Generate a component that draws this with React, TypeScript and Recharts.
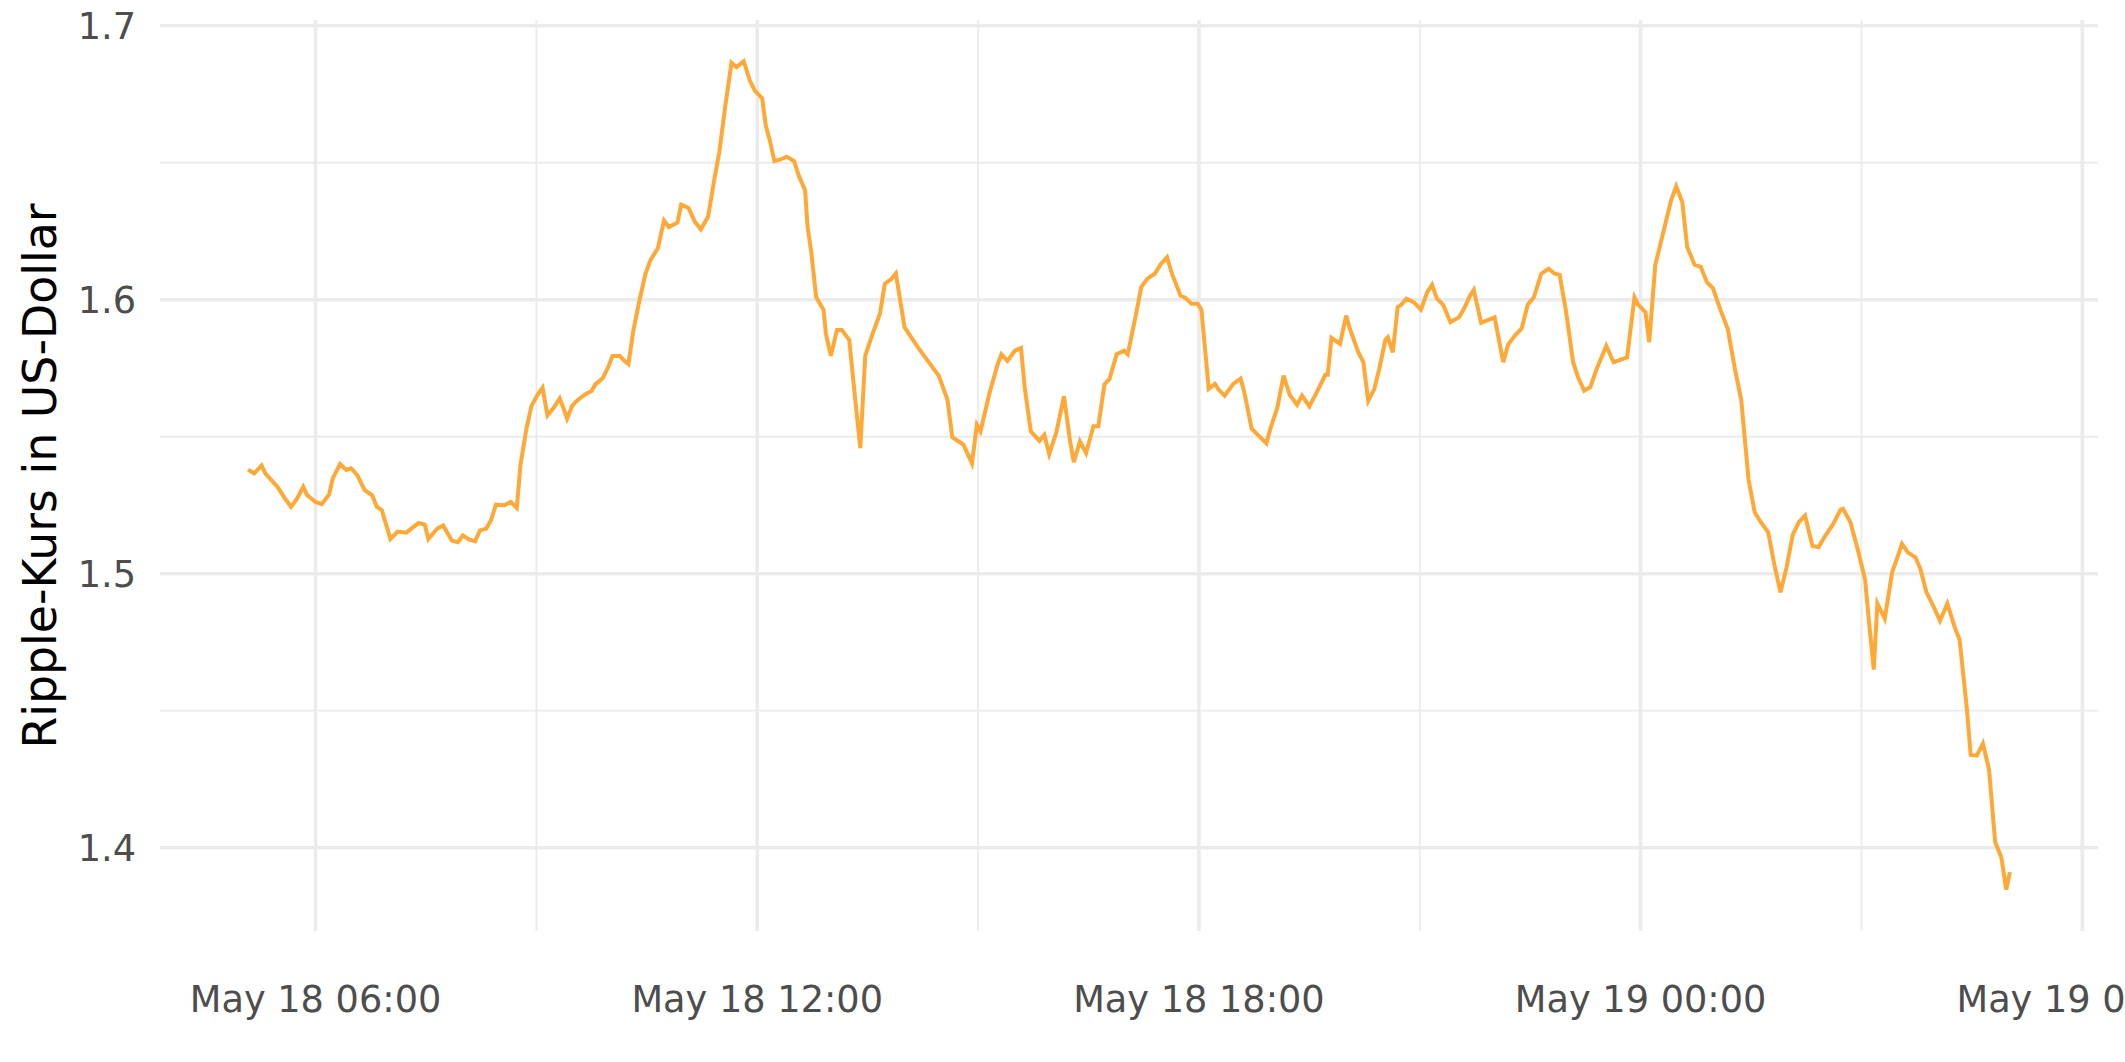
import React from 'react';
import { LineChart, Line, XAxis, YAxis, CartesianGrid } from 'recharts';

// time in minutes since May 18 00:00
const timeMinutes = [
  305, 310, 316, 319, 329, 335, 340, 345, 350, 353, 360, 365, 371, 374, 380, 385, 389, 394, 400, 406,
  410, 414, 421, 427, 434, 439, 444, 449, 452, 459, 464, 471, 476, 480, 485, 490, 494, 499, 503, 507,
  514, 519, 524, 527, 532, 536, 541, 545, 549, 554, 559, 562, 565, 569, 572, 577, 581, 585, 588, 594,
  599, 602, 608, 612, 615, 619, 624, 629, 633, 639, 644, 648, 655, 658, 664, 669, 674, 680, 685, 689,
  694, 699, 703, 709, 714, 718, 724, 727, 730, 734, 739, 744, 750, 754, 759, 761, 764, 768, 774, 776,
  780, 785, 789, 795, 800, 804, 808, 814, 820, 824, 829, 833, 840, 851, 858, 868, 875, 879, 888, 895,
  899, 902, 909, 916, 919, 924, 930, 935, 938, 943, 950, 954, 958, 964, 970, 975, 978, 983, 988, 994,
  998, 1003, 1007, 1013, 1019, 1022,
  1029, 1033, 1038, 1044, 1049, 1054, 1058, 1065, 1069, 1074, 1079, 1082, 1088, 1093, 1096, 1101, 1108,
  1114, 1117, 1123, 1128, 1135, 1138, 1144, 1149, 1154, 1160, 1164, 1170, 1176, 1183, 1185, 1188, 1195,
  1200, 1203, 1210, 1214, 1218, 1223, 1227, 1232, 1234, 1238, 1242, 1245, 1249, 1255, 1261, 1266, 1270,
  1274, 1279, 1285, 1292, 1296, 1301, 1304, 1310, 1321, 1328, 1332, 1338, 1343, 1348, 1353, 1359, 1365,
  1370, 1374, 1379, 1385, 1389, 1394, 1399, 1404, 1409, 1412, 1418, 1429, 1435, 1438, 1444, 1447, 1452,
  1455, 1461, 1465, 1469, 1474, 1478, 1484, 1489, 1494, 1499, 1505, 1511, 1517, 1522, 1528, 1533, 1538,
  1544, 1549, 1554, 1559, 1564, 1569, 1574, 1580, 1585, 1591, 1597, 1603, 1605, 1611, 1617, 1623, 1626,
  1630, 1633, 1639, 1645, 1650, 1653, 1658, 1664, 1668, 1673, 1679, 1684, 1690, 1696, 1700, 1706, 1709,
  1714, 1719, 1724, 1729, 1734, 1738, 1741,
];

const prices = [
  1.538, 1.5366, 1.5395, 1.5366, 1.5317, 1.5275, 1.5244, 1.5275, 1.5317, 1.5287, 1.5262, 1.5254, 1.5289, 1.5348, 1.54, 1.5379, 1.5385, 1.536, 1.5305, 1.5287,
  1.5244, 1.5232, 1.5127, 1.5154, 1.515, 1.5168, 1.5185, 1.5179, 1.5127, 1.5164, 1.5176, 1.5121, 1.5115, 1.514, 1.5125, 1.5118, 1.5158, 1.5164, 1.5195, 1.5252,
  1.525, 1.5262, 1.524, 1.5397, 1.5532, 1.5612, 1.5654, 1.5679, 1.5578, 1.5605, 1.564, 1.5605, 1.5566, 1.5612, 1.5627, 1.5646, 1.5658, 1.5667, 1.5691, 1.5713,
  1.5759, 1.5795, 1.5795, 1.5775, 1.5765, 1.5887, 1.5998, 1.6096, 1.6145, 1.6188, 1.6289, 1.6265, 1.6282, 1.6347, 1.6335, 1.6286, 1.6257, 1.6304, 1.6439, 1.6537,
  1.6708, 1.6865, 1.6849, 1.687, 1.68, 1.6763, 1.6735, 1.6635, 1.6586, 1.6506, 1.6512, 1.6522, 1.6506, 1.6451, 1.64, 1.6267, 1.6175, 1.601, 1.5963, 1.5875,
  1.5795, 1.589, 1.589, 1.5853, 1.563, 1.5458, 1.5795, 1.5875, 1.5949, 1.6059, 1.6074, 1.6096, 1.59, 1.5826, 1.5783, 1.5722, 1.5636, 1.5498, 1.5471, 1.5403,
  1.5544, 1.552, 1.5654, 1.5765, 1.5801, 1.5777, 1.5814, 1.5824, 1.5679, 1.552, 1.5485, 1.5507, 1.5436, 1.552, 1.5648, 1.5483, 1.5407, 1.5483, 1.544, 1.5538,
  1.5538, 1.5691, 1.571, 1.5801, 1.5814, 1.5801,
  1.5954, 1.6046, 1.6077, 1.6095, 1.6131, 1.6155, 1.6095, 1.6015, 1.6007, 1.5985, 1.5985, 1.5964, 1.5675, 1.5693, 1.5672, 1.565, 1.5693,
  1.5712, 1.5662, 1.5529, 1.5507, 1.5476, 1.5526, 1.5608, 1.5723, 1.5653, 1.5617, 1.565, 1.5611, 1.5662, 1.5726, 1.5726, 1.5861, 1.5839,
  1.5942, 1.5894, 1.5808, 1.5772, 1.5631, 1.5675, 1.5748, 1.5854, 1.5863, 1.5808, 1.5973, 1.5982, 1.6004, 1.5991, 1.5964, 1.6027, 1.6055,
  1.6004, 1.5982, 1.5918, 1.5936, 1.5967, 1.6015, 1.6036, 1.5916, 1.5936, 1.5772, 1.5836, 1.5872, 1.5894, 1.5982, 1.6009, 1.6095, 1.6113,
  1.6095, 1.6091, 1.5964, 1.5772, 1.5717, 1.5668, 1.5681, 1.5745, 1.5799, 1.5832, 1.5772, 1.579, 1.6009, 1.5982, 1.5954, 1.5845, 1.6128,
  1.6182, 1.6292, 1.6365, 1.6414, 1.6356, 1.6192, 1.6128, 1.612, 1.6064, 1.6042, 1.5964, 1.5894, 1.5745, 1.5635, 1.5343, 1.5224, 1.5188,
  1.5151, 1.5033, 1.4932, 1.5024, 1.5142, 1.5188, 1.5212, 1.5102, 1.5097, 1.5142, 1.5182, 1.5234, 1.5237, 1.5188, 1.5088, 1.4978, 1.4832,
  1.465, 1.4891, 1.4836, 1.5005, 1.5069, 1.5109, 1.5077, 1.506, 1.5018, 1.4932, 1.4878, 1.4828, 1.4891, 1.4805, 1.4759, 1.4504, 1.4339,
  1.4336, 1.438, 1.4285, 1.402, 1.3965, 1.3847, 1.3911,
];

const xTickMinutes = [360, 720, 1080, 1440, 1800];
const xTickLabels = ['May 18 06:00', 'May 18 12:00', 'May 18 18:00', 'May 19 00:00', 'May 19 06:00'];
const xMinorMinutes = [540, 900, 1260, 1620];
const yTicks = [1.4, 1.5, 1.6, 1.7];
const yMinor = [1.45, 1.55, 1.65];
const yTitle = 'Ripple-Kurs in US-Dollar';

const data = timeMinutes.map((t, i) => ({ t, price: prices[i] }));

const FONT = '"DejaVu Sans", sans-serif';
const tickStyle = { fontSize: 36.7, fill: '#4D4D4D', fontFamily: FONT };

export default function App() {
  return (
    <div style={{ position: 'absolute', left: 0, top: 0, width: 2125, height: 1062, background: '#fff' }}>
      <LineChart width={2125} height={1062} data={data} margin={{ top: 20, right: 27, bottom: 0, left: 0 }}>
        <CartesianGrid
          stroke="#EBEBEB"
          strokeWidth={1.8}
          horizontalValues={yMinor}
          verticalValues={xMinorMinutes}
        />
        <CartesianGrid
          stroke="#EBEBEB"
          strokeWidth={3.6}
          horizontalValues={yTicks}
          verticalValues={xTickMinutes}
        />
        <XAxis
          dataKey="t"
          type="number"
          domain={[233.2, 1812.8]}
          allowDataOverflow
          ticks={xTickMinutes}
          interval={0}
          tickFormatter={(v: number) => xTickLabels[xTickMinutes.indexOf(v)] ?? ''}
          axisLine={false}
          tickLine={false}
          tickSize={0}
          tickMargin={55}
          height={131}
          tick={tickStyle}
        />
        <YAxis
          type="number"
          domain={[1.3696, 1.7021]}
          allowDataOverflow
          ticks={yTicks}
          interval={0}
          tickFormatter={(v: number) => v.toFixed(1)}
          axisLine={false}
          tickLine={false}
          tickSize={0}
          tickMargin={24}
          width={160}
          tick={tickStyle}
        />
        <Line
          type="linear"
          dataKey="price"
          stroke="#FFA836"
          strokeWidth={4}
          dot={false}
          activeDot={false}
          isAnimationActive={false}
        />
      </LineChart>
      <div
        style={{
          position: 'absolute',
          left: 41,
          top: 476,
          transform: 'translate(-50%, -50%) rotate(-90deg)',
          whiteSpace: 'nowrap',
          fontFamily: FONT,
          fontSize: 45.8,
          lineHeight: 1,
          color: '#000',
        }}
      >
        {yTitle}
      </div>
    </div>
  );
}
